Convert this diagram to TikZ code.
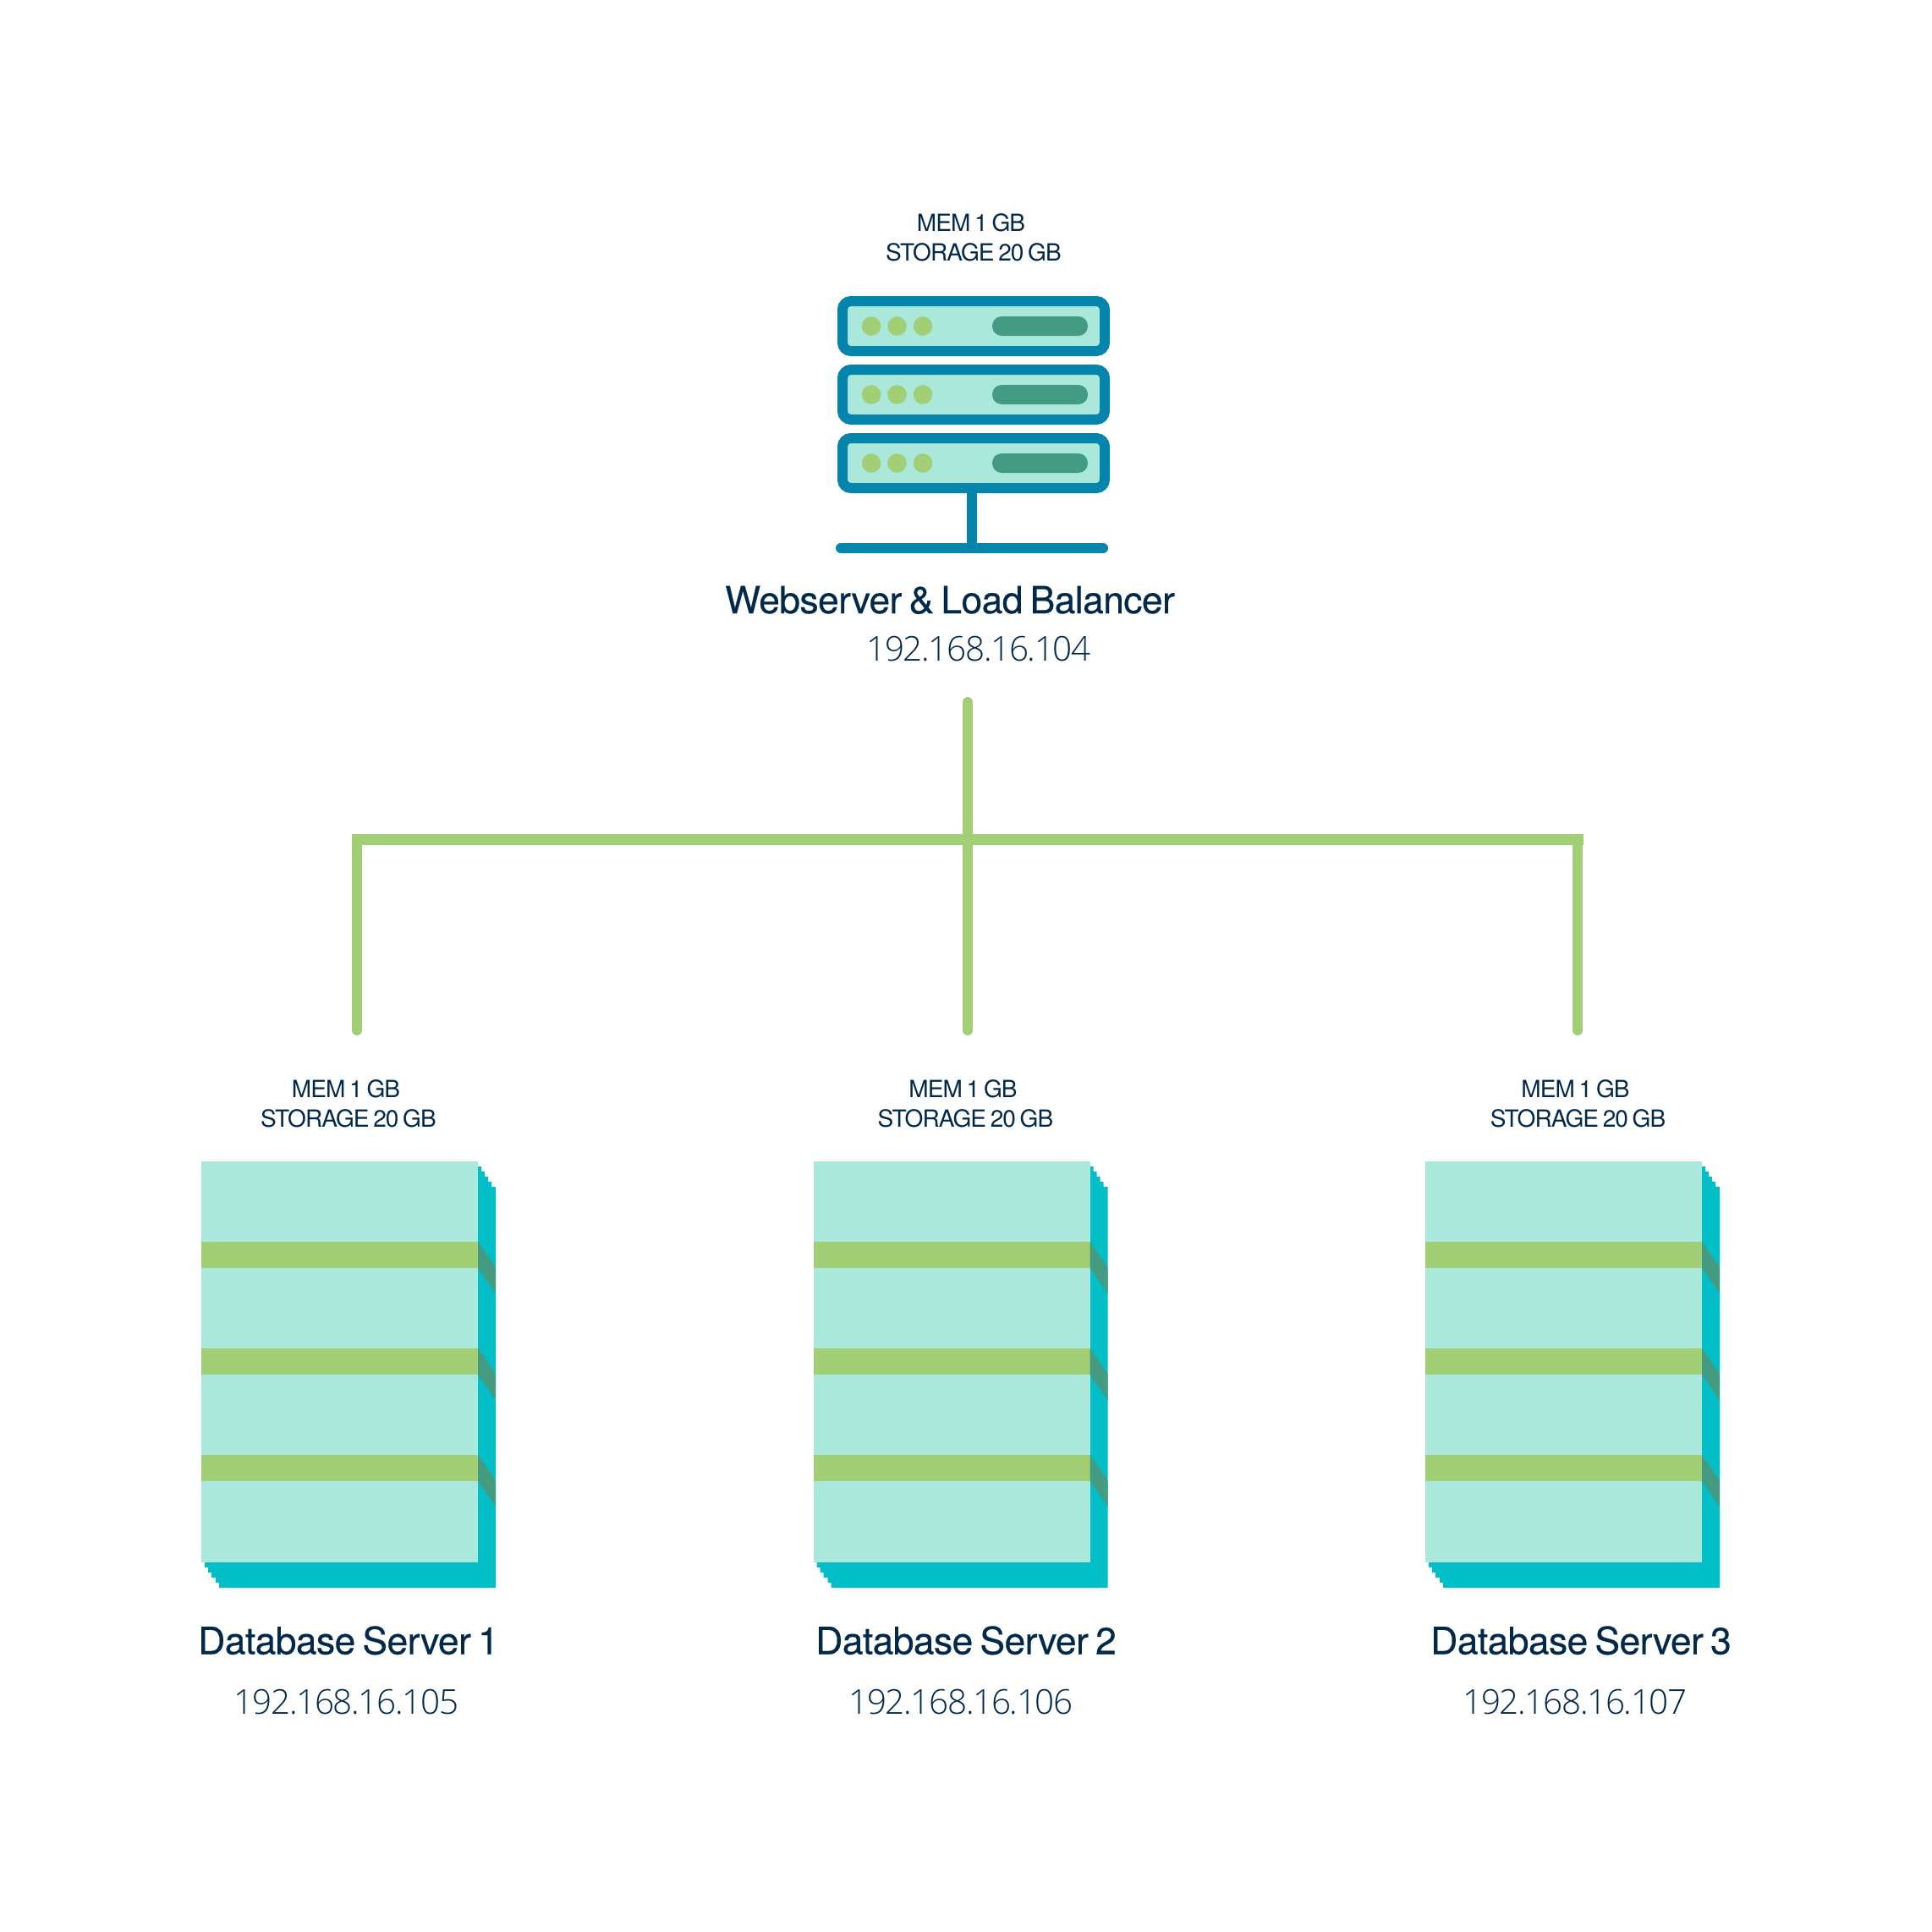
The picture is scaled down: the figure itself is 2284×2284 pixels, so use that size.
\documentclass[tikz,border=0pt]{standalone}
\usepackage{fontspec}
\setmainfont{TeX Gyre Heros}
\newfontfamily\specfont[LetterSpace=-3.4,WordSpace=0.7]{TeX Gyre Heros}
\newfontfamily\titlefont[LetterSpace=-1.3,WordSpace=0.7,FakeBold=0.4]{TeX Gyre Heros}
\newfontfamily\ipfont[UprightFont=* Light,LetterSpace=-3.3]{Open Sans}
\definecolor{ink}{HTML}{02294A}
\definecolor{rack}{HTML}{0585AB}
\definecolor{mint}{HTML}{AAE8DC}
\definecolor{leaf}{HTML}{A2CE75}
\definecolor{pine}{HTML}{439B82}
\definecolor{sea}{HTML}{02BEC6}
\tikzset{
  spec/.style={anchor=base,inner sep=0pt,text=ink,font=\specfont\fontsize{7}{8}\selectfont},
  title/.style={anchor=base,inner sep=0pt,text=ink,font=\titlefont\fontsize{11.1}{13}\selectfont},
  ip/.style={anchor=base,inner sep=0pt,text=ink,font=\ipfont\fontsize{10.1}{13}\selectfont},
  link/.style={draw=leaf,line width=3pt,line cap=round},
  trunk/.style={draw=leaf,line width=3.25pt,line cap=rect},
  rackbox/.style={draw=rack,fill=mint,line width=3pt,rounded corners=2.5pt},
  led/.style={fill=leaf,draw=none},
  pill/.style={fill=pine,draw=none,rounded corners=2.8pt},
}
\begin{document}
\begin{tikzpicture}[x=0.25pt,y=-0.25pt]
\useasboundingbox (0,0) rectangle (2284,2284);
\fill[white] (0,0) rectangle (2284,2284);

% connectors
\coordinate (drop) at (1144,830);
\coordinate (hub) at (1144,992);
\coordinate (leftEnd) at (422,1218);
\coordinate (midEnd) at (1144,1218);
\coordinate (rightEnd) at (1865,1218);
\coordinate (leftCorner) at (422,992);
\coordinate (rightCorner) at (1865,992);
\draw[link] (leftEnd) -- (leftCorner);
\draw[link] (rightEnd) -- (rightCorner);
\draw[trunk] (leftCorner) -- (rightCorner);
\draw[link] (drop) -- (hub) -- (midEnd);

% top server
\foreach \n/\yc in {1/385.5,2/466.5,3/547.5}{
  \draw[rackbox] (996,\yc-29.5) rectangle (1306,\yc+29.5);
  \foreach \xc in {1030,1060.5,1091}{
    \fill[led] (\xc,\yc) circle[radius=11.3];
  }
  \fill[pill] (1173,\yc-11.5) rectangle (1286,\yc+11.5);
}
\draw[draw=rack,line width=3pt] (1149,583) -- (1149,648);
\draw[draw=rack,line width=3pt,line cap=round] (994,648) -- (1304,648);

\node[spec] (wsmem) at (1148,273) {MEM 1 GB};
\node[spec] (wsstore) at (1151,308) {STORAGE 20 GB};
\node[title] (wstitle) at (1123,725) {Webserver \& Load Balancer};
\node[ip] (wsip) at (1157,781) {192.168.16.104};

% database servers
\foreach \dx/\name/\ipaddr/\sx/\tx/\ix in {0/1/105/0/412/409.5,723.5/2/106/729.5/1142/1136,1447/3/107/1453.5/1869/1862}{
  \begin{scope}[xshift=\dx*0.25pt]
    \fill[sea] (565,1379) -- (569,1379) -- (569,1385) -- (573,1385) -- (573,1391) -- (577,1391) -- (577,1397) -- (581,1397) -- (581,1403) -- (586,1403)
      -- (586,1877) -- (259,1877) -- (259,1871) -- (255,1871) -- (255,1865) -- (250,1865) -- (250,1859) -- (246,1859) -- (246,1853) -- (242,1853) -- (242,1847) -- cycle;
    \fill[mint] (238,1373) rectangle (565,1847);
    \foreach \yb in {1468,1594,1720}{
      \fill[leaf] (238,\yb) rectangle (565,\yb+31);
      \fill[pine] (565,\yb) -- (586,\yb+30) -- (586,\yb+61) -- (565,\yb+31) -- cycle;
    }
  \end{scope}
  \node[spec] (mem\name) at (\sx+409,1297) {MEM 1 GB};
  \node[spec] (store\name) at (\sx+412,1332) {STORAGE 20 GB};
  \node[title] (dbtitle\name) at (\tx,1955.5) {Database Server \name};
  \node[ip] (dbip\name) at (\ix,2026.5) {192.168.16.\ipaddr};
}
\end{tikzpicture}
\end{document}
